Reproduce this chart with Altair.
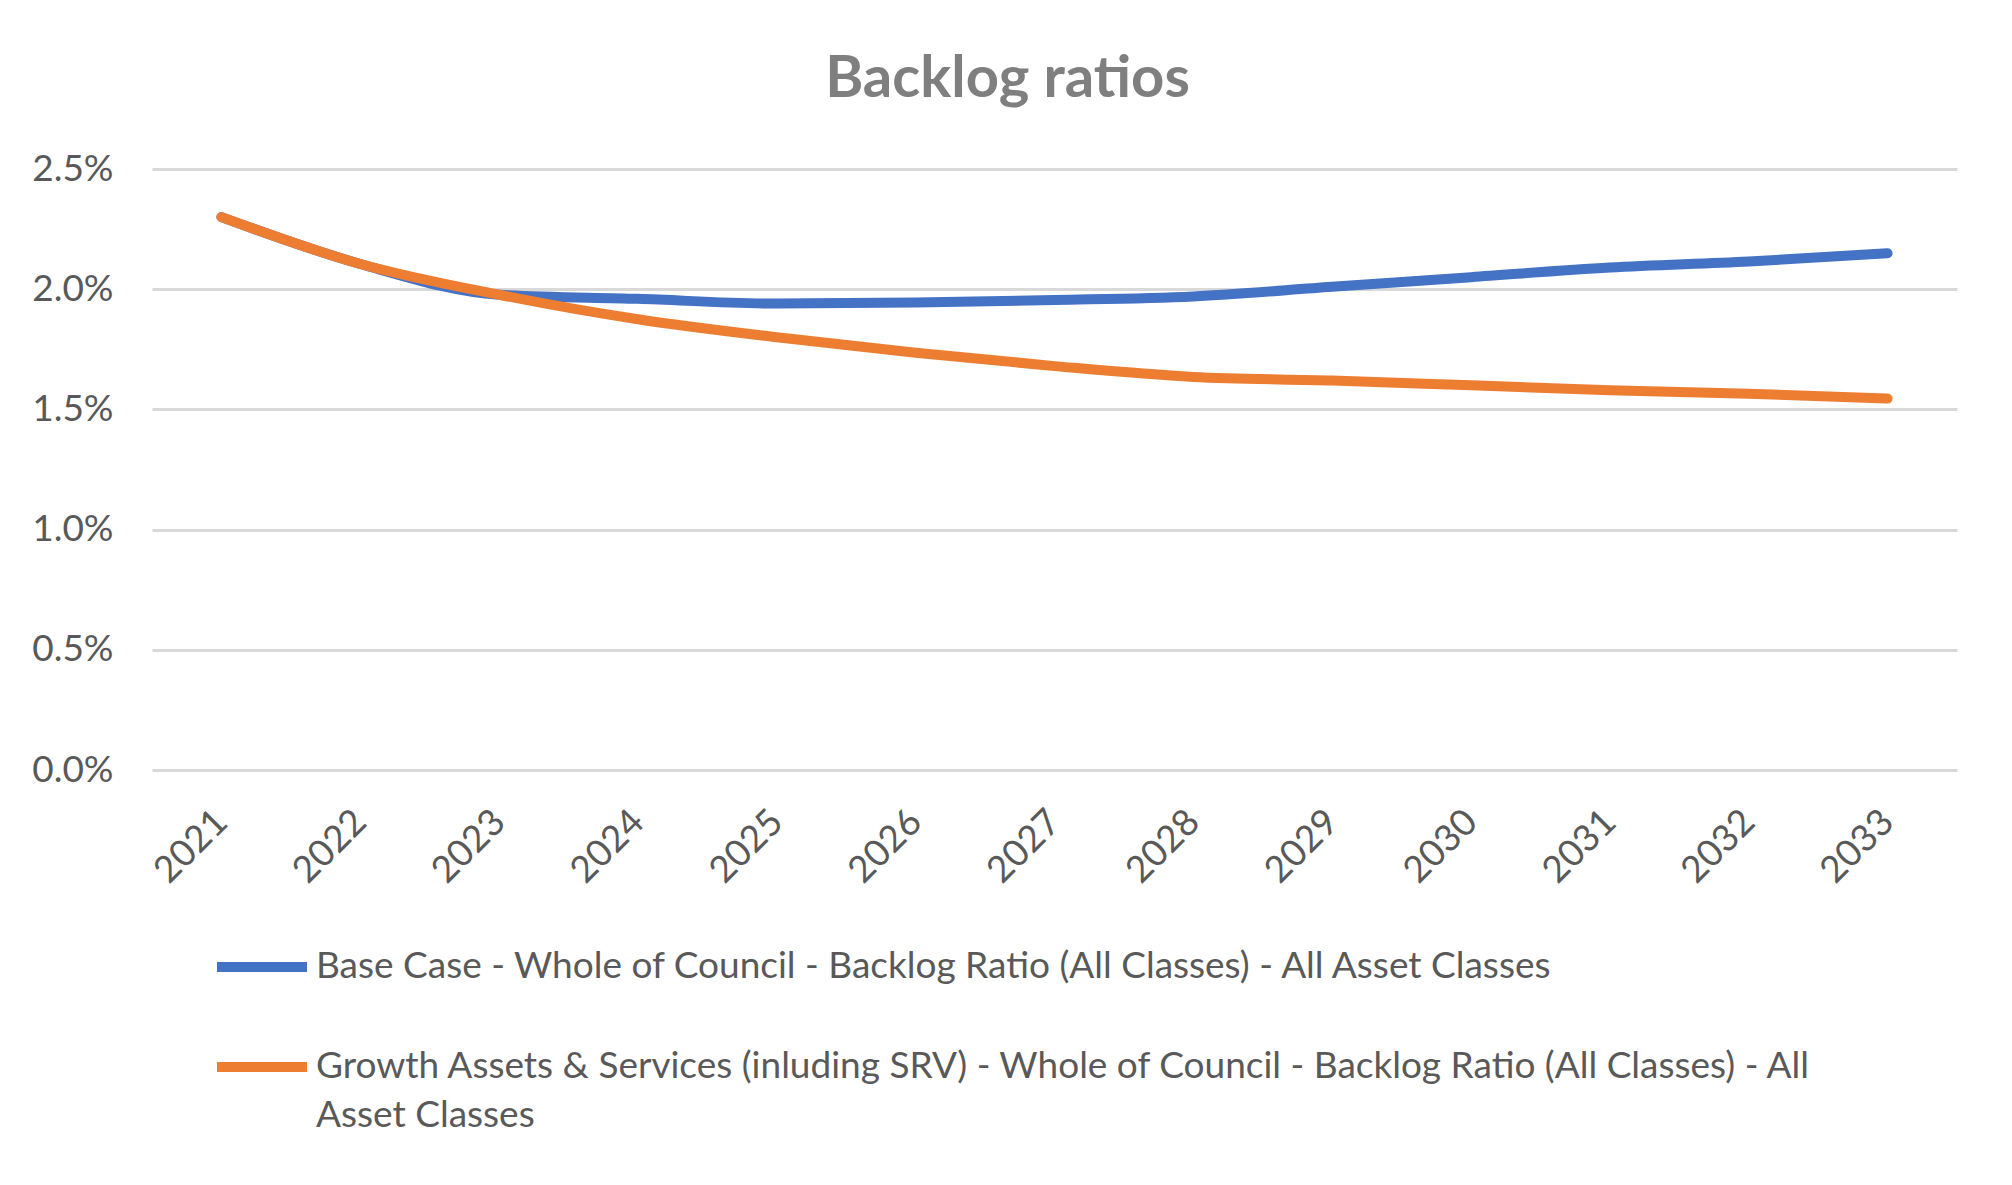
import altair as alt
import pandas as pd

years = [str(y) for y in range(2021, 2034)]
base_case = [2.30, 2.105, 1.977, 1.96, 1.94, 1.945, 1.955, 1.97, 2.01, 2.05, 2.09, 2.115, 2.15]
growth = [2.30, 2.105, 1.977, 1.875, 1.80, 1.736, 1.68, 1.635, 1.62, 1.60, 1.58, 1.565, 1.545]
series_names = [
    "Base Case - Whole of Council - Backlog Ratio (All Classes) - All Asset Classes",
    "Growth Assets & Services (inluding SRV) - Whole of Council - Backlog Ratio (All Classes) - All Asset Classes",
]
series_colors = ["#4472C4", "#ED7D31"]
y_ticks = [0.0, 0.005, 0.010, 0.015, 0.020, 0.025]

rows = []
for name, vals in zip(series_names, [base_case, growth]):
    for yr, v in zip(years, vals):
        rows.append({"year": yr, "value": v / 100.0, "series": name})
df = pd.DataFrame(rows)

FONT = "Lato"
TXT = "#595959"

label_expr = (
    "substring(datum.label, 0, 6) == 'Growth' ? "
    "['Growth Assets & Services (inluding SRV) - Whole of Council - Backlog Ratio (All Classes) - All', 'Asset Classes']"
    " : datum.label"
)

chart = (
    alt.Chart(df)
    .mark_line(strokeWidth=10, interpolate="monotone", strokeCap="round", strokeJoin="round")
    .encode(
        x=alt.X(
            "year:O",
            sort=years,
            title=None,
            axis=alt.Axis(
                labelAngle=-45,
                labelAlign="right",
                labelBaseline="middle",
                labelPadding=46,
                ticks=False,
                domain=False,
                grid=False,
                labelFont=FONT,
                labelFontSize=37,
                labelColor=TXT,
            ),
        ),
        y=alt.Y(
            "value:Q",
            title=None,
            scale=alt.Scale(domain=[0, 0.025]),
            axis=alt.Axis(
                values=y_ticks,
                format=".1%",
                ticks=False,
                domain=False,
                labelPadding=39,
                labelFont=FONT,
                labelFontSize=37,
                labelColor=TXT,
                gridColor="#D9D9D9",
                gridWidth=3,
            ),
        ),
        color=alt.Color(
            "series:N",
            scale=alt.Scale(domain=series_names, range=series_colors),
            sort=series_names,
            legend=alt.Legend(
                title=None,
                orient="none",
                legendX=60,
                legendY=748,
                direction="vertical",
                symbolType="stroke",
                symbolSize=8100,
                symbolStrokeWidth=10,
                labelFont=FONT,
                labelFontSize=37,
                labelColor=TXT,
                labelLimit=2000,
                labelOffset=4,
                labelExpr=label_expr,
                rowPadding=30,
                padding=0,
            ),
        ),
        order=alt.Order("year:O"),
    )
    .properties(
        width=1805,
        height=601,
        autosize=alt.AutoSizeParams(type="none"),
        padding={"left": 144, "top": 161, "right": 47, "bottom": 407},
        title=alt.TitleParams(
            "Backlog ratios",
            font=FONT,
            fontSize=58,
            fontWeight="bold",
            color="#7F7F7F",
            anchor="middle",
            dx=-47,
            offset=41,
        ),
    )
    .configure(style={"guide-label": {"lineHeight": 49}})
    .configure_view(stroke=None)
)

chart.save("out.html", embed_options={"renderer": "svg", "actions": False})
